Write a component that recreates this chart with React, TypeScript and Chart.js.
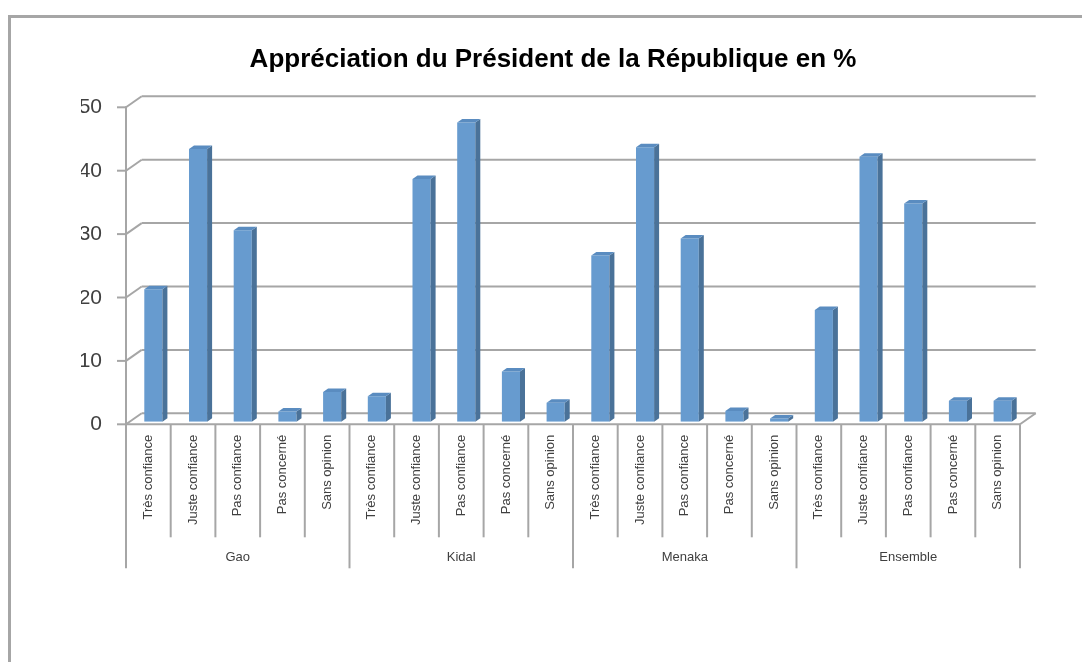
import React, { useEffect, useRef } from "react";
import { Chart, registerables } from "chart.js";

Chart.register(...registerables);

const TITLE = "Appréciation du Président de la République en %";
const categories = ["Très confiance", "Juste confiance", "Pas confiance", "Pas concerné", "Sans opinion"];
const groups = ["Gao", "Kidal", "Menaka", "Ensemble"];
const gao = [20.9, 43.0, 30.2, 1.6, 4.7];
const kidal = [4.0, 38.3, 47.2, 7.9, 3.0];
const menaka = [26.2, 43.3, 28.9, 1.7, 0.5];
const ensemble = [17.6, 41.8, 34.4, 3.3, 3.3];
const yMin = 0;
const yMax = 50;
const yStep = 10;

const labels = groups.flatMap(() => categories);
const values = [...gao, ...kidal, ...menaka, ...ensemble];

const FRONT = { x: -5, y: 2.6 };
const BACK = { x: 10.7, y: -8.4 };
const GRID = "#a6a6a6";
const TEXT = "#404040";

const depthPlugin = {
  id: "depth3d",
  beforeDatasetsDraw(chart: any) {
    const { ctx, chartArea: a, scales } = chart;
    const x = scales.x, y = scales.y;
    const line = (x1: number, y1: number, x2: number, y2: number) => {
      ctx.beginPath();
      ctx.moveTo(x1, y1);
      ctx.lineTo(x2, y2);
      ctx.stroke();
    };
    ctx.save();
    ctx.strokeStyle = GRID;
    ctx.lineWidth = 2;
    ctx.lineCap = "butt";
    y.ticks.forEach((t: any) => {
      const py = y.getPixelForValue(t.value);
      line(a.left + BACK.x, py + BACK.y, a.right + BACK.x, py + BACK.y);
      line(a.left + FRONT.x, py + FRONT.y, a.left + BACK.x, py + BACK.y);
      line(a.left + FRONT.x - 9, py + FRONT.y, a.left + FRONT.x, py + FRONT.y);
    });
    const y0 = y.getPixelForValue(yMin);
    const yT = y.getPixelForValue(yMax);
    line(a.left + FRONT.x, yT + FRONT.y - 1, a.left + FRONT.x, y0 + FRONT.y);
    line(a.left + FRONT.x, y0 + FRONT.y, a.right + FRONT.x, y0 + FRONT.y);
    line(a.right + FRONT.x, y0 + FRONT.y, a.right + BACK.x, y0 + BACK.y);
    const n = labels.length;
    const cw = (x.getPixelForValue(n - 1) - x.getPixelForValue(0)) / (n - 1);
    for (let k = 0; k <= n; k++) {
      const px = x.getPixelForValue(0) - cw / 2 + k * cw + FRONT.x;
      const len = k % categories.length === 0 ? 144 : 113;
      line(px, y0 + FRONT.y, px, y0 + FRONT.y + len);
    }
    ctx.fillStyle = TEXT;
    ctx.font = '13px "Liberation Sans"';
    ctx.textAlign = "center";
    ctx.textBaseline = "middle";
    groups.forEach((g, gi) => {
      const i0 = gi * categories.length;
      const i1 = i0 + categories.length - 1;
      const cx = (x.getPixelForValue(i0) + x.getPixelForValue(i1)) / 2 + FRONT.x;
      ctx.fillText(g, cx, y0 + FRONT.y + 133);
    });
    ctx.restore();
  },
  afterDatasetsDraw(chart: any) {
    const { ctx } = chart;
    const meta = chart.getDatasetMeta(0);
    const dx = 5, dy = -3.5;
    ctx.save();
    meta.data.forEach((bar: any) => {
      const p = bar.getProps(["x", "y", "base", "width"], true);
      const l = p.x - p.width / 2, r = p.x + p.width / 2;
      ctx.fillStyle = "#4a7299";
      ctx.beginPath();
      ctx.moveTo(r, p.y);
      ctx.lineTo(r + dx, p.y + dy);
      ctx.lineTo(r + dx, p.base + dy);
      ctx.lineTo(r, p.base);
      ctx.closePath();
      ctx.fill();
      ctx.fillStyle = "#5a8cc0";
      ctx.beginPath();
      ctx.moveTo(l, p.y);
      ctx.lineTo(l + dx, p.y + dy);
      ctx.lineTo(r + dx, p.y + dy);
      ctx.lineTo(r, p.y);
      ctx.closePath();
      ctx.fill();
    });
    ctx.restore();
  },
};

export default function App() {
  const ref = useRef<HTMLCanvasElement | null>(null);
  useEffect(() => {
    if (!ref.current) return;
    const chart = new Chart(ref.current, {
      type: "bar",
      data: {
        labels,
        datasets: [
          {
            data: values,
            backgroundColor: "#679bcf",
            borderWidth: 0,
            barPercentage: 0.405,
            categoryPercentage: 1,
          },
        ],
      },
      options: {
        animation: false,
        responsive: true,
        maintainAspectRatio: false,
        layout: { padding: { left: 81, right: 57, top: 44.4, bottom: 40.3 } },
        plugins: {
          legend: { display: false },
          tooltip: { enabled: false },
          title: {
            display: true,
            text: TITLE,
            color: "#000",
            font: { family: '"Liberation Sans"', size: 26, weight: "bold" },
            padding: { top: 0, bottom: 29.1 },
          },
        },
        scales: {
          x: {
            grid: { display: false, drawTicks: false },
            border: { display: false },
            ticks: {
              autoSkip: false,
              minRotation: 90,
              maxRotation: 90,
              labelOffset: -5,
              padding: 13,
              color: TEXT,
              font: { family: '"Liberation Sans"', size: 13 },
            },
            afterFit: (s: any) => { s.height = 200; },
          },
          y: {
            min: yMin,
            max: yMax,
            grid: { display: false, drawTicks: false },
            border: { display: false },
            ticks: {
              stepSize: yStep,
              padding: 29,
              labelOffset: 3,
              color: TEXT,
              font: { family: '"Liberation Sans"', size: 21 },
            },
            afterFit: (s: any) => { s.width = 50; },
          },
        },
      },
      plugins: [depthPlugin],
    });
    return () => chart.destroy();
  }, []);
  return (
    <div style={{ position: "fixed", left: 0, top: 0, width: 1082, height: 662, background: "#fff" }}>
      <div
        style={{
          position: "absolute",
          left: 8,
          top: 15,
          width: 1100,
          height: 700,
          borderLeft: "3px solid #a6a6a6",
          borderTop: "3px solid #a6a6a6",
          pointerEvents: "none",
        }}
      />
      <canvas ref={ref} style={{ position: "absolute", left: 0, top: 0 }} />
    </div>
  );
}
